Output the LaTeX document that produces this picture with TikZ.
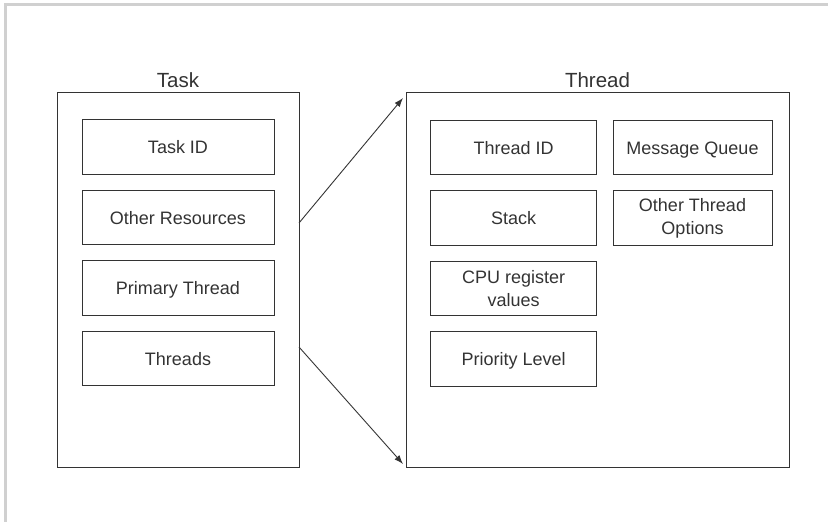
\documentclass[tikz,border=0pt]{standalone}
\usepackage{fontspec}
\setmainfont{Liberation Sans}
\usetikzlibrary{arrows.meta,positioning}
\definecolor{edge}{HTML}{333333}
\definecolor{framegray}{HTML}{D0D0D0}

\begin{document}
\begin{tikzpicture}[x=1pt, y=-1pt, line width=1pt, color=edge, node distance=15pt,
  holder/.style={draw, minimum height=375pt},
  part/.style={draw, minimum height=54.5pt, align=center, font=\fontsize{18}{23}\selectfont},
  oneline/.style={part, text height=13pt, text depth=0pt},
  title/.style={font=\fontsize{20.5}{24}\selectfont, inner sep=0pt},
  link/.style={line width=0.9pt, -{Latex[length=9pt,width=6.5pt]}}]
\useasboundingbox (0,0) rectangle (828,522);
\draw[framegray, line width=3pt] (5.5,522) -- (5.5,4) -- (828,4);

% task side
\node[holder, minimum width=242pt] (task) at (178,279.5) {};
\node[title, anchor=base] (tasktitle) at ([yshift=4.5pt]task.north) {Task};
\node[oneline, minimum width=192pt] (taskid) at (178,147.2) {Task ID};
\node[oneline, minimum width=192pt, below=of taskid] (otherres) {Other Resources};
\node[oneline, minimum width=192pt, below=of otherres] (primary) {Primary Thread};
\node[oneline, minimum width=192pt, below=of primary] (threads) {Threads};

% thread side
\node[holder, minimum width=383pt] (thread) at (597.5,279.5) {};
\node[title, anchor=base] (threadtitle) at ([yshift=4.5pt]thread.north) {Thread};
\node[oneline, minimum width=166pt] (threadid) at (513.7,147.5) {Thread ID};
\node[oneline, minimum width=166pt, below=of threadid] (stack) {Stack};
\node[part, minimum width=166pt, below=of stack] (cpureg) {CPU register\\values};
\node[oneline, minimum width=166pt, below=of cpureg] (priority) {Priority Level};
\node[oneline, minimum width=159pt] (msgq) at (692.5,147.5) {Message Queue};
\node[part, minimum width=159pt, below=of msgq] (otheropt) {Other Thread\\Options};

% arrows
\coordinate (from1) at (299,223);
\coordinate (to1) at (403,98);
\coordinate (from2) at (299,347);
\coordinate (to2) at (403,464);
\draw[link] (from1) -- (to1);
\draw[link] (from2) -- (to2);
\end{tikzpicture}
\end{document}
